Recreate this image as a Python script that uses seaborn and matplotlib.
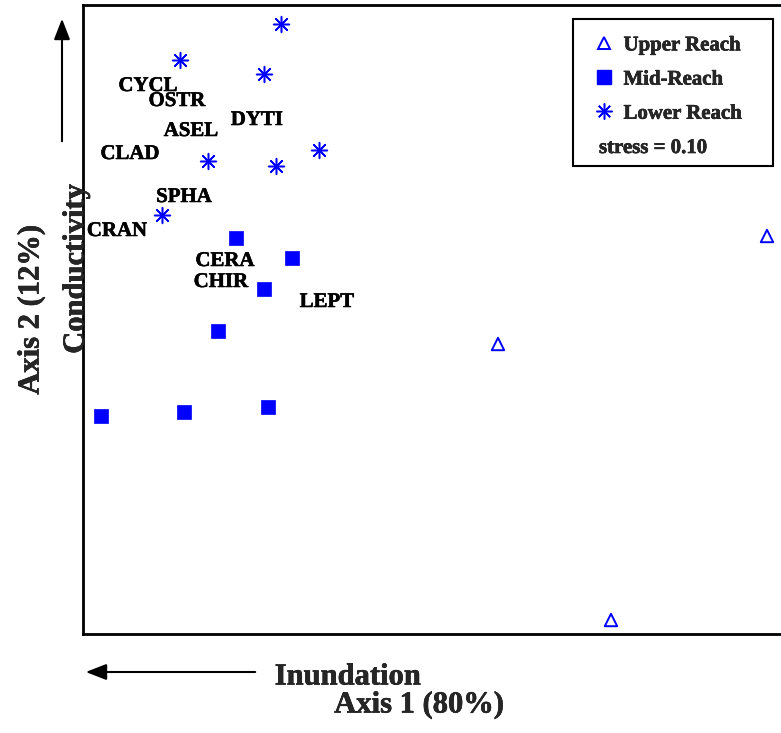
import matplotlib
matplotlib.use("Agg")
import matplotlib.pyplot as plt
import matplotlib.patheffects as pe
import seaborn as sns
import pandas as pd
from matplotlib.lines import Line2D
from matplotlib.patches import Rectangle, FancyArrowPatch

# ---------------- data (NMDS ordination scores) ----------------
upper_x = [6.84, 4.15, 5.28]
upper_y = [3.98, 2.90, 0.14]

mid_x = [1.53, 2.09, 1.81, 1.35, 0.18, 1.01, 1.85]
mid_y = [3.96, 3.76, 3.45, 3.03, 2.18, 2.22, 2.27]

lower_x = [1.98, 0.97, 1.81, 1.25, 1.93, 2.36, 0.79]
lower_y = [6.10, 5.74, 5.60, 4.73, 4.68, 4.84, 4.19]

taxa = ["CYCL", "OSTR", "ASEL", "DYTI", "CLAD", "SPHA", "CRAN", "CERA", "CHIR", "LEPT"]
taxa_x = [0.65, 0.94, 1.08, 1.74, 0.47, 1.01, 0.34, 1.42, 1.38, 2.44]
taxa_y = [5.48, 5.33, 5.03, 5.14, 4.80, 4.37, 4.03, 3.73, 3.52, 3.32]

group_names = ["Upper Reach", "Mid-Reach", "Lower Reach"]
stress_label = "stress = 0.10"

# ---------------- styling ----------------
sns.set_theme(style="white")
FONT = ["Liberation Serif", "DejaVu Serif"]
plt.rcParams["font.family"] = FONT
plt.rcParams["font.weight"] = "bold"
BLUE = "#0000FF"
HEAVY = [pe.withStroke(linewidth=0.4, foreground="black")]

W, H = 781, 733
fig = plt.figure(figsize=(W / 100, H / 100), dpi=100)
fig.patch.set_facecolor("white")

# axes: left edge at px 83, top at px 5, bottom at px 634, right runs past the figure edge
ax = fig.add_axes([83 / W, (H - 634) / H, 710 / W, 629 / H])
ax.set_facecolor("white")

df_up = pd.DataFrame({"x": upper_x, "y": upper_y})
df_mid = pd.DataFrame({"x": mid_x, "y": mid_y})
df_low = pd.DataFrame({"x": lower_x, "y": lower_y})

sns.scatterplot(data=df_up, x="x", y="y", ax=ax, marker="^", s=80,
                facecolor="none", edgecolor=BLUE, linewidth=1.4, zorder=3)
sns.scatterplot(data=df_mid, x="x", y="y", ax=ax, marker="s", s=115,
                color=BLUE, edgecolor=BLUE, linewidth=0.5, zorder=3)
sns.scatterplot(data=df_low, x="x", y="y", ax=ax, marker=(8, 2, 0), s=130,
                color=BLUE, linewidth=1.1, zorder=3)
sns.scatterplot(data=df_low, x="x", y="y", ax=ax, marker="o", s=10,
                color=BLUE, edgecolor=BLUE, linewidth=0, zorder=4)

for name, tx, ty in zip(taxa, taxa_x, taxa_y):
    ax.text(tx, ty, name, ha="center", va="center", fontsize=15,
            fontweight="bold", family=FONT, color="black", zorder=5,
            path_effects=HEAVY)

ax.set_xlim(0, 7.10)
ax.set_ylim(0, 6.29)
ax.set_xticks([])
ax.set_yticks([])
ax.set_xlabel("")
ax.set_ylabel("")
for side in ["left", "bottom", "top", "right"]:
    ax.spines[side].set_visible(True)
    ax.spines[side].set_color("black")
    ax.spines[side].set_linewidth(2.0)

# ---------------- legend ----------------
handles = [
    Line2D([], [], linestyle="none", marker="^", markersize=9, markerfacecolor="none",
           markeredgecolor=BLUE, markeredgewidth=1.4),
    Line2D([], [], linestyle="none", marker="s", markersize=10.5, markerfacecolor=BLUE,
           markeredgecolor=BLUE),
    Line2D([], [], linestyle="none", marker=(8, 2, 0), markersize=11.5, color=BLUE,
           markeredgewidth=1.1),
]
leg = fig.legend(handles, group_names, loc="upper left",
                 bbox_to_anchor=(585 / W, 1 - 25 / H), frameon=False,
                 prop={"family": FONT, "weight": "bold", "size": 15},
                 handlelength=0.8, handletextpad=0.55, labelspacing=0.68,
                 borderpad=0.0)
for t in leg.get_texts():
    t.set_path_effects(HEAVY)
fig.text(599 / W, 1 - 148 / H, stress_label, ha="left", va="center",
         fontsize=15, fontweight="bold", family=FONT, path_effects=HEAVY)
fig.patches.append(Rectangle((573 / W, 1 - 166 / H), 200 / W, 147 / H,
                             transform=fig.transFigure, fill=True, facecolor="white",
                             edgecolor="black", linewidth=1.5, zorder=1))

# ---------------- axis titles & arrows ----------------
fig.text(31 / W, 1 - 310 / H, "Axis 2 (12%)", rotation=90, ha="center", va="center",
         fontsize=22, fontweight="bold", family=FONT, path_effects=HEAVY)
fig.text(76 / W, 1 - 269 / H, "Conductivity", rotation=90, ha="center", va="center",
         fontsize=22, fontweight="bold", family=FONT, zorder=10, path_effects=HEAVY)
fig.text(348 / W, 1 - 677 / H, "Inundation", ha="center", va="center",
         fontsize=22, fontweight="bold", family=FONT, path_effects=HEAVY)
fig.text(419 / W, 1 - 705 / H, "Axis 1 (80%)", ha="center", va="center",
         fontsize=22, fontweight="bold", family=FONT, path_effects=HEAVY)

arrow_kw = dict(arrowstyle="-|>,head_length=0.9,head_width=0.35", color="black", lw=1.5)
fig.add_artist(FancyArrowPatch(
    (62 / W, 1 - 144 / H), (62 / W, 1 - 16 / H), transform=fig.transFigure,
    mutation_scale=14, **arrow_kw))
fig.add_artist(FancyArrowPatch(
    (258 / W, 1 - 672 / H), (83 / W, 1 - 672 / H), transform=fig.transFigure,
    mutation_scale=14, **arrow_kw))

fig.savefig("out.png", dpi=100, facecolor="white")
